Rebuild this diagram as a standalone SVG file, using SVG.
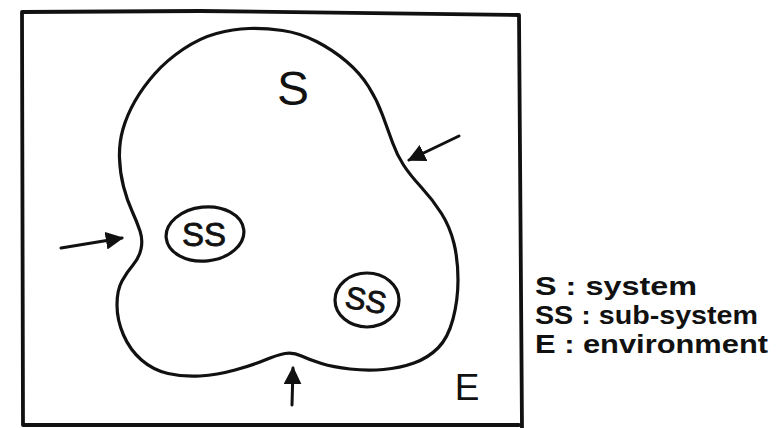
<svg xmlns="http://www.w3.org/2000/svg" width="783" height="428" viewBox="0 0 783 428">
<style>
.ln{fill:none;stroke:#111;stroke-width:3.2;stroke-linecap:round;stroke-linejoin:round}
.arr{fill:none;stroke:#111;stroke-width:3;stroke-linecap:round}
.t{font-family:"Liberation Sans","DejaVu Sans",sans-serif;fill:#111}
.lg{font-family:"Liberation Sans","DejaVu Sans",sans-serif;fill:#111;font-weight:bold;font-size:25px}
</style>
<defs>
<marker id="ah" viewBox="0 0 10 10" refX="9" refY="5" markerWidth="6" markerHeight="6" orient="auto" markerUnits="strokeWidth">
<path d="M0,0 L10,5 L0,10 Z" fill="#111"/>
</marker>
</defs>
<rect width="783" height="428" fill="#fff"/>
<g id="environment">
<path class="ln" d="M22,12 L200,11 L519,15 L522,428 M22,12 L23,425 L519,425" style="stroke-width:3.8"/>
<text class="t" x="467" y="400" font-size="37" text-anchor="middle">E</text>
</g>
<g id="system">
<path class="ln" d="M 249,28.5 Q 265,28 282.5,30.5 Q 300,33 316.5,41.5 Q 333,50 346.5,61.5 Q 360,73 368.5,86.5 Q 377,100 382.5,115 Q 388,130 392.5,142.5 Q 397,155 403.5,165 Q 410,175 421.5,187.5 Q 433,200 441.5,213.5 Q 450,227 454,243.5 Q 458,260 458,280 Q 458,300 453,319 Q 448,338 438,348 Q 428,358 414,363 Q 400,368 383.5,369.5 Q 367,371 350,369 Q 333,367 321.5,363.5 Q 310,360 301.5,356 Q 293,352 285,353.5 Q 277,355 265,360 Q 253,365 235,370 Q 217,375 200,376 Q 183,377 168,373.5 Q 153,370 141.5,360 Q 130,350 123.5,335 Q 117,320 117,305 Q 117,290 122,281 Q 127,272 133,265 Q 139,258 141,249 Q 143,240 140,231 Q 137,222 132,211 Q 127,200 123.5,186.5 Q 120,173 119.5,158 Q 119,143 123,129 Q 127,115 135,101 Q 143,87 155,73.5 Q 167,60 183.5,49 Q 200,38 216.5,33.5 Q 233,29 249,28.5 Z"/>
<text class="t" x="293" y="105" font-size="48" text-anchor="middle">S</text>
</g>
<g id="subsystem1">
<ellipse class="ln" cx="205" cy="234" rx="39" ry="27" transform="rotate(-6 205 234)"/>
<text class="t" x="204" y="246" font-size="33" text-anchor="middle" style="stroke:#111;stroke-width:0.8">SS</text>
</g>
<g id="subsystem2">
<ellipse class="ln" cx="367" cy="300" rx="32" ry="27"/>
<text class="t" x="366" y="311" font-size="31" text-anchor="middle" transform="rotate(10 366 300)" style="stroke:#111;stroke-width:0.8">SS</text>
</g>
<g id="connectors">
<line class="arr" x1="61" y1="248" x2="122" y2="238" marker-end="url(#ah)"/>
<line class="arr" x1="459" y1="136" x2="409" y2="160" marker-end="url(#ah)"/>
<line class="arr" x1="292" y1="405" x2="293" y2="368" marker-end="url(#ah)"/>
</g>
<g id="legend">
<text class="lg" x="535" y="295" textLength="162" lengthAdjust="spacingAndGlyphs">S : system</text>
<text class="lg" x="535" y="324" textLength="223" lengthAdjust="spacingAndGlyphs">SS : sub-system</text>
<text class="lg" x="535" y="353" textLength="233" lengthAdjust="spacingAndGlyphs">E : environment</text>
</g>
</svg>
